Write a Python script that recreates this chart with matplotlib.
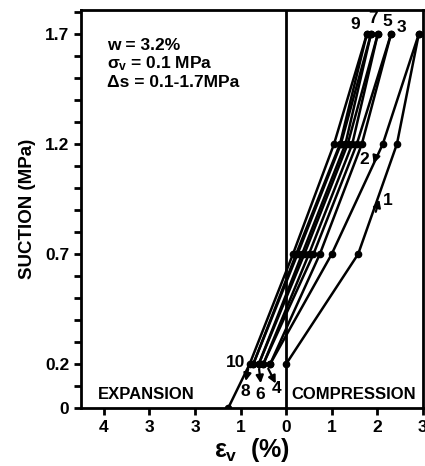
import numpy as np
import matplotlib.pyplot as plt
from matplotlib.ticker import MultipleLocator

plt.rcParams['font.family'] = ['Liberation Sans', 'DejaVu Sans']
plt.rcParams['font.weight'] = 'bold'
plt.rcParams['axes.labelweight'] = 'bold'
plt.rcParams['mathtext.fontset'] = 'custom'
plt.rcParams['mathtext.rm'] = 'Liberation Sans:bold'
plt.rcParams['mathtext.it'] = 'Liberation Sans:bold'
plt.rcParams['mathtext.bf'] = 'Liberation Sans:bold'

# suction levels (MPa) for drying (up) and wetting (down) paths
s_up = [0.2, 0.7, 1.2, 1.7]
s_down = [1.7, 1.2, 0.7, 0.2]

# volumetric strain (%) for each path
ev_1 = [0.0, 1.58, 2.43, 2.91]
ev_2 = [2.91, 2.12, 1.00, -0.35]
ev_3 = [-0.35, 0.74, 1.66, 2.30]
ev_4 = [2.30, 1.55, 0.60, -0.50]
ev_5 = [-0.50, 0.50, 1.45, 2.01]
ev_6 = [2.01, 1.35, 0.40, -0.60]
ev_7 = [-0.60, 0.35, 1.30, 1.86]
ev_8 = [1.86, 1.20, 0.25, -0.72]
ev_9 = [-0.72, 0.22, 1.18, 1.77]
ev_10 = [1.77, 1.05, 0.15, -0.80, -1.27]
s_10 = [1.7, 1.2, 0.7, 0.2, 0.0]

xticks = [-4, -3, -2, -1, 0, 1, 2, 3]
xticklabels = ['4', '3', '3', '1', '0', '1', '2', '3']
yticks = [0, 0.2, 0.7, 1.2, 1.7]
yticklabels = ['0', '0.2', '0.7', '1.2', '1.7']

fig = plt.figure(figsize=(4.25, 4.66), dpi=100)
ax = fig.add_axes([0.1906, 0.1245, 0.8044, 0.854])

paths = [(ev_1, s_up), (ev_2, s_down), (ev_3, s_up), (ev_4, s_down),
         (ev_5, s_up), (ev_6, s_down), (ev_7, s_up), (ev_8, s_down),
         (ev_9, s_up), (ev_10, s_10)]
for ev, s in paths:
    ax.plot(ev, s, color='black', lw=1.8, marker='o', ms=4.5)

ax.axvline(0, color='black', lw=2)

# direction arrows
arr = dict(arrowstyle='-|>', color='black', lw=1.6, mutation_scale=11)
ax.annotate('', xy=(2.06, 0.96), xytext=(1.95, 0.88), arrowprops=arr)
ax.annotate('', xy=(1.90, 1.10), xytext=(2.00, 1.16), arrowprops=arr)
ax.annotate('', xy=(-0.20, 0.10), xytext=(-0.42, 0.19), arrowprops=arr)
ax.annotate('', xy=(-0.55, 0.10), xytext=(-0.60, 0.19), arrowprops=arr)
ax.annotate('', xy=(-0.90, 0.11), xytext=(-0.82, 0.19), arrowprops=arr)

# path numbers
fs = 12.5
ax.text(2.23, 0.945, '1', fontsize=fs, ha='center', va='center')
ax.text(1.71, 1.13, '2', fontsize=fs, ha='center', va='center')
ax.text(2.52, 1.73, '3', fontsize=fs, ha='center', va='center')
ax.text(2.23, 1.76, '5', fontsize=fs, ha='center', va='center')
ax.text(1.90, 1.77, '7', fontsize=fs, ha='center', va='center')
ax.text(1.51, 1.745, '9', fontsize=fs, ha='center', va='center')
ax.text(-1.12, 0.205, '10', fontsize=fs, ha='center', va='center')
ax.text(-0.90, 0.073, '8', fontsize=fs, ha='center', va='center')
ax.text(-0.57, 0.06, '6', fontsize=fs, ha='center', va='center')
ax.text(-0.22, 0.09, '4', fontsize=fs, ha='center', va='center')

ax.text(-3.92, 1.65, 'w = 3.2%', fontsize=12.5, va='center')
ax.text(-3.92, 1.565, r'$\sigma_{\mathrm{v}}$ = 0.1 MPa', fontsize=12.5, va='center')
ax.text(-3.92, 1.48, 'Δs = 0.1-1.7MPa', fontsize=12.5, va='center')

ax.text(-3.06, 0.06, 'EXPANSION', fontsize=12, ha='center', va='center')
ax.text(1.49, 0.06, 'COMPRESSION', fontsize=12, ha='center', va='center')

ax.set_xlim(-4.5, 3.0)
ax.set_ylim(0, 1.81)
ax.set_xticks(xticks)
ax.set_xticklabels(xticklabels)
ax.set_yticks(yticks)
ax.set_yticklabels(yticklabels)
ax.yaxis.set_minor_locator(MultipleLocator(0.1))
ax.tick_params(axis='both', which='major', labelsize=12.5, width=2, length=5)
ax.tick_params(axis='y', which='minor', width=2, length=5)
for sp in ax.spines.values():
    sp.set_linewidth(2)

ax.set_ylabel('SUCTION (MPa)', fontsize=13.5, labelpad=6)
ax.set_xlabel(r'$\varepsilon_{\mathrm{v}}$  (%)', fontsize=18, labelpad=1)

fig.savefig('out.png', dpi=100)
